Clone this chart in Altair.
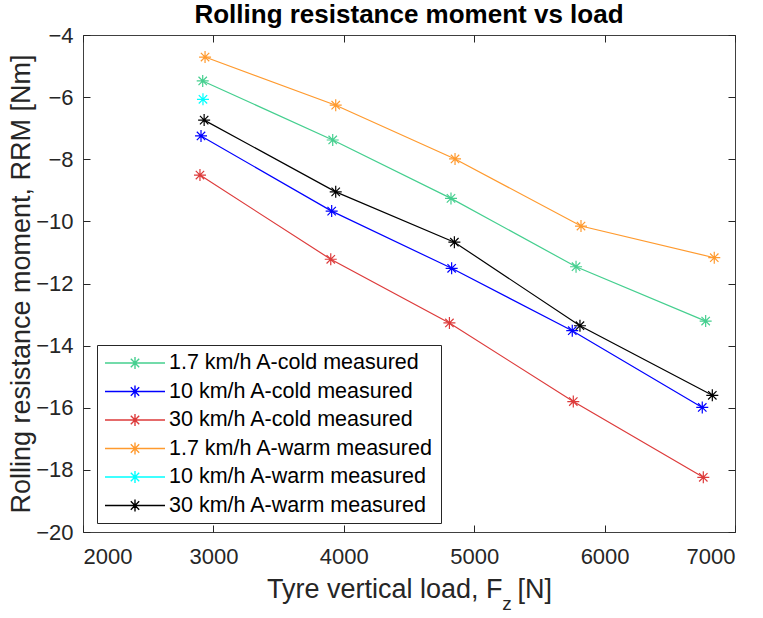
import altair as alt
import pandas as pd

series_names = [
    "1.7 km/h A-cold measured",
    "10 km/h A-cold measured",
    "30 km/h A-cold measured",
    "1.7 km/h A-warm measured",
    "10 km/h A-warm measured",
    "30 km/h A-warm measured",
]
series_colors = ["#45CF8F", "#0000FF", "#DD3B3B", "#FF9A2E", "#00FFFF", "#000000"]

load_cold_17 = [2918, 3915, 4822, 5781, 6775]
rrm_cold_17 = [-5.48, -7.38, -9.26, -11.46, -13.21]
load_cold_10 = [2905, 3907, 4827, 5752, 6749]
rrm_cold_10 = [-7.25, -9.67, -11.51, -13.52, -15.99]
load_cold_30 = [2897, 3900, 4810, 5760, 6757]
rrm_cold_30 = [-8.51, -11.22, -13.27, -15.80, -18.24]
load_warm_17 = [2936, 3938, 4853, 5819, 6841]
rrm_warm_17 = [-4.71, -6.26, -7.99, -10.15, -11.17]
load_warm_10 = [2920]
rrm_warm_10 = [-6.07]
load_warm_30 = [2929, 3938, 4848, 5811, 6826]
rrm_warm_30 = [-6.74, -9.05, -10.67, -13.36, -15.60]

x_ticks = [2000, 3000, 4000, 5000, 6000, 7000]
y_ticks = [-20, -18, -16, -14, -12, -10, -8, -6, -4]

loads = [load_cold_17, load_cold_10, load_cold_30, load_warm_17, load_warm_10, load_warm_30]
rrms = [rrm_cold_17, rrm_cold_10, rrm_cold_30, rrm_warm_17, rrm_warm_10, rrm_warm_30]
rows = []
for name, ls, rs in zip(series_names, loads, rrms):
    for l, r in zip(ls, rs):
        rows.append({"series": name, "load": l, "rrm": r})
df = pd.DataFrame(rows)

W, H = 652, 497
FONT = "Liberation Sans"
NBSP = "\u00a0"
ASTERISK = "M-1,0L1,0M0,-1L0,1M-0.7,-0.7L0.7,0.7M-0.7,0.7L0.7,-0.7"
LEG_SYM = ("M-3,0L3,0M-0.6,0L0.6,0M0,-0.6L0,0.6"
           "M-0.42,-0.42L0.42,0.42M-0.42,0.42L0.42,-0.42")

xscale = alt.Scale(domain=[2000, 7000], nice=False, zero=False)
yscale = alt.Scale(domain=[-20, -4], nice=False, zero=False)
cscale = alt.Scale(domain=series_names, range=series_colors)

base = alt.Chart(df)

lines = base.mark_line(strokeWidth=1.2).encode(
    x=alt.X("load:Q", scale=xscale,
            axis=alt.Axis(orient="bottom", values=x_ticks, format="d", tickSize=0, domain=False,
                          grid=False, labelFont=FONT, labelFontSize=22, labelColor="#262626",
                          labelPadding=14,
                          title="Tyre vertical load, F" + NBSP * 2 + "[N]", titleFont=FONT,
                          titleFontSize=27, titleFontWeight="normal", titleColor="#262626",
                          titlePadding=9)),
    y=alt.Y("rrm:Q", scale=yscale,
            axis=alt.Axis(orient="left", values=y_ticks, format="d", tickSize=0, domain=False,
                          grid=False, labelFont=FONT, labelFontSize=22, labelColor="#262626",
                          labelPadding=10, title="Rolling resistance moment, RRM [Nm]",
                          titleFont=FONT, titleFontSize=27, titleFontWeight="normal",
                          titleColor="#262626", titlePadding=0)),
    color=alt.Color("series:N", scale=cscale, sort=series_names,
                    legend=alt.Legend(title=None, orient="none", legendX=14, legendY=310,
                                      direction="vertical", symbolType=LEG_SYM, symbolSize=400,
                                      symbolStrokeWidth=1.4, symbolOffset=20, labelOffset=23,
                                      labelFont=FONT, labelFontSize=21.5, labelColor="#000000",
                                      labelLimit=500, padding=7, rowPadding=6.5,
                                      strokeColor="#262626", fillColor="white")),
)

points = base.mark_point(shape=ASTERISK, filled=False, size=144, strokeWidth=1.2, opacity=1).encode(
    x=alt.X("load:Q", scale=xscale,
            axis=alt.Axis(orient="top", offset=-H, values=x_ticks, tickSize=7, labels=False,
                          domain=False, grid=False, title=None, tickColor="#262626")),
    y=alt.Y("rrm:Q", scale=yscale,
            axis=alt.Axis(orient="right", offset=-W, values=y_ticks, tickSize=7, labels=False,
                          domain=False, grid=False, title=None, tickColor="#262626")),
    color=alt.Color("series:N", scale=cscale, legend=None),
)

ghost = base.mark_point(opacity=0).encode(
    x=alt.X("load:Q", scale=xscale,
            axis=alt.Axis(orient="bottom", offset=-H, values=x_ticks, tickSize=7, labels=False,
                          domain=False, grid=False, title=None, tickColor="#262626")),
    y=alt.Y("rrm:Q", scale=yscale,
            axis=alt.Axis(orient="left", offset=-W, values=y_ticks, tickSize=7, labels=False,
                          domain=False, grid=False, title=None, tickColor="#262626")),
)

sub_z = alt.Chart(pd.DataFrame({"t": ["z"]})).mark_text(
    font=FONT, fontSize=19, color="#262626", align="center", baseline="alphabetic"
).encode(text="t:N", x=alt.value(424), y=alt.value(575))

chart = alt.layer(lines, points, ghost, sub_z).resolve_axis(
    x="independent", y="independent"
).properties(
    width=W, height=H,
    title=alt.TitleParams("Rolling resistance moment vs load", font=FONT, fontSize=26,
                          fontWeight="bold", color="#000000", anchor="middle", offset=6, dy=10),
    autosize=alt.AutoSizeParams(type="none"),
    padding={"left": 83, "top": 35, "right": 28, "bottom": 86},
).configure_view(stroke="#404040", strokeWidth=1)

chart.save("out.html", embed_options={"renderer": "svg", "actions": False})
